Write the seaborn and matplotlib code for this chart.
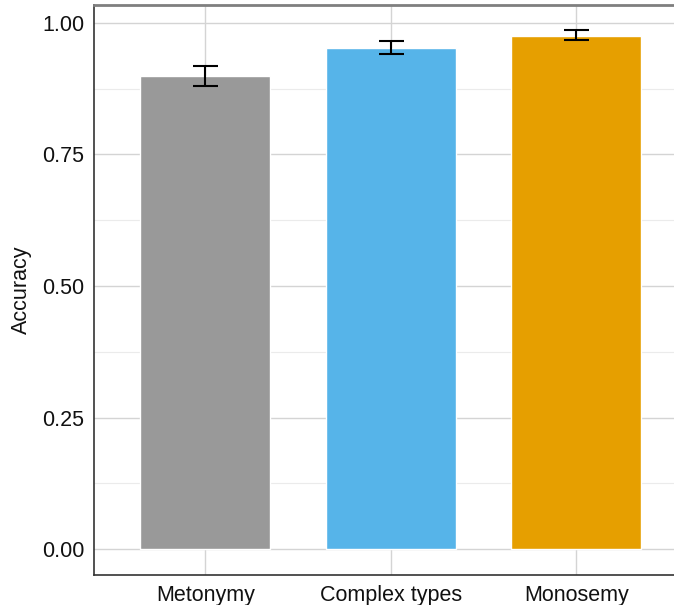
import numpy as np
import pandas as pd
import seaborn as sns
import matplotlib.pyplot as plt
from matplotlib.ticker import MultipleLocator

# values
conditions = ["Metonymy", "Complex types", "Monosemy"]
accuracy = [0.899, 0.953, 0.976]
ci_low = [0.881, 0.941, 0.967]
ci_high = [0.919, 0.966, 0.986]
bar_colors = ["#999999", "#56B4E9", "#E69F00"]

df = pd.DataFrame({"condition": conditions, "accuracy": accuracy})

sns.set_style("white")
plt.rcParams['font.family'] = ['Liberation Sans', 'DejaVu Sans']

fig = plt.figure(figsize=(6.74, 6.05), dpi=100)
# panel runs off the right edge like the reference
ax = fig.add_axes([94 / 674, 30 / 605, 593.6 / 674, 570 / 605])

sns.barplot(data=df, x="condition", y="accuracy", hue="condition",
            palette=bar_colors, width=0.7, errorbar=None, legend=False,
            saturation=1, ax=ax, zorder=3)

acc = np.array(accuracy)
yerr = [acc - np.array(ci_low), np.array(ci_high) - acc]
ax.errorbar(range(len(conditions)), acc, yerr=yerr, fmt="none",
            ecolor="black", elinewidth=1.5, capsize=9, capthick=1.5, zorder=4)

ax.set_xlim(-0.6, 2.6)
ax.set_ylim(-0.049, 1.034)
ax.yaxis.set_major_locator(MultipleLocator(0.25))
ax.yaxis.set_minor_locator(MultipleLocator(0.125))
ax.set_yticks([0, 0.25, 0.5, 0.75, 1.0])
ax.set_yticklabels(["0.00", "0.25", "0.50", "0.75", "1.00"])

ax.grid(True, which="major", color="#d4d4d4", linewidth=1.0, zorder=0)
ax.grid(True, which="minor", axis="y", color="#ebebeb", linewidth=0.8, zorder=0)
ax.set_axisbelow(True)

for side in ["left", "bottom"]:
    ax.spines[side].set_color("#333333")
    ax.spines[side].set_linewidth(1.2)
ax.spines["top"].set_color("#7f7f7f")
ax.spines["top"].set_linewidth(2.0)
ax.spines["right"].set_visible(False)

ax.tick_params(axis="both", which="major", length=4, width=1, color="#333333",
               labelsize=15.5, labelcolor="#111111", pad=3)
ax.tick_params(axis="y", which="minor", length=0)

ax.set_xlabel("")
ax.set_ylabel("Accuracy", fontsize=15.5, color="#111111", labelpad=7)

fig.savefig("out.png", dpi=100)
